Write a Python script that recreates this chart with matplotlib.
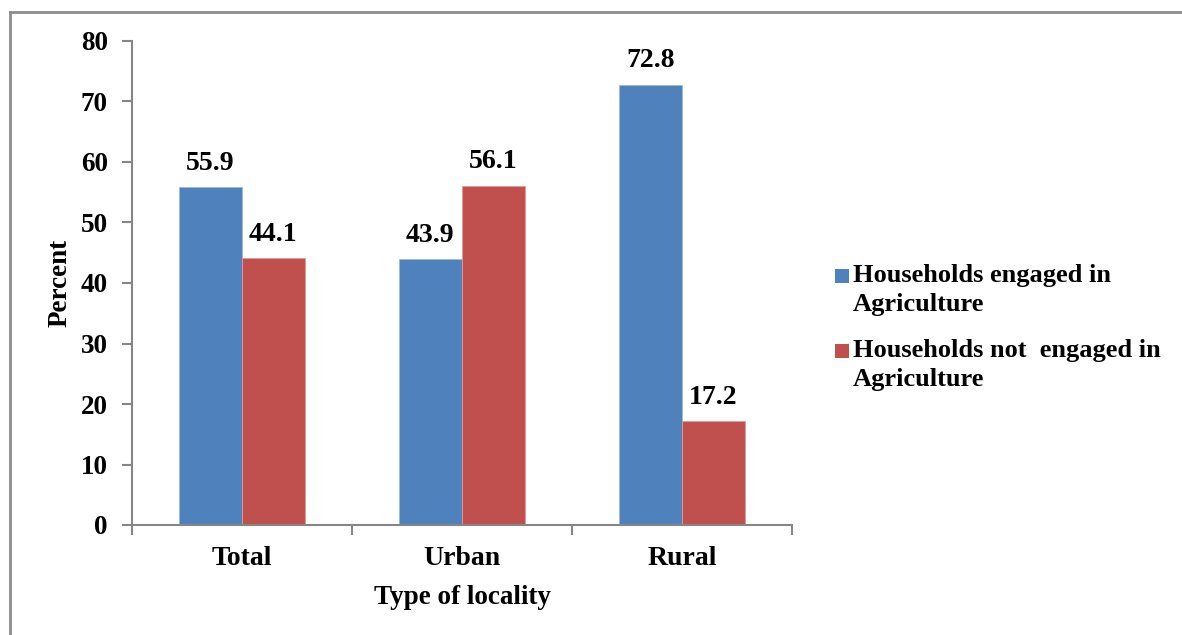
import matplotlib
matplotlib.use("Agg")
import matplotlib.pyplot as plt
from matplotlib.lines import Line2D
from matplotlib.patches import Rectangle
import numpy as np

categories = ["Total", "Urban", "Rural"]
engaged = [55.9, 43.9, 72.8]
not_engaged = [44.1, 56.1, 17.2]
series_labels = ["Households engaged in\nAgriculture",
                 "Households not  engaged in\nAgriculture"]
y_ticks = [0, 10, 20, 30, 40, 50, 60, 70, 80]

BLUE = "#4F81BD"
RED = "#C0504D"
GRID_GRAY = "#868686"

plt.rcParams["font.family"] = ["Liberation Serif", "DejaVu Serif"]
plt.rcParams["font.weight"] = "bold"

W, H = 1182, 635
fig = plt.figure(figsize=(W / 100, H / 100), dpi=100)
ax = fig.add_axes([131.5 / W, (H - 525) / H, (792 - 131.5) / W, (525 - 41) / H])

x = np.arange(len(categories))
bw = 63 / 220
b1 = ax.bar(x - bw / 2, engaged, bw, color=BLUE, edgecolor="#9DB9DE", linewidth=0.6)
b2 = ax.bar(x + bw / 2, not_engaged, bw, color=RED, edgecolor="#E39A98", linewidth=0.6)

for bars, vals in ((b1, engaged), (b2, not_engaged)):
    for rect, v in zip(bars, vals):
        ax.annotate(f"{v:.1f}", (rect.get_x() + rect.get_width() / 2, v),
                    xytext=(0, 8), textcoords="offset points",
                    ha="center", va="bottom", fontsize=20, fontweight="bold")

ax.set_xlim(-0.5, len(categories) - 0.5)
ax.set_ylim(0, 80)
ax.set_yticks(y_ticks)
ax.set_yticklabels([str(t) for t in y_ticks], fontsize=19.5, fontweight="bold")

# group boundaries as major ticks, category names as minor ticks
ax.set_xticks(np.arange(len(categories) + 1) - 0.5)
ax.set_xticklabels([])
ax.set_xticks(x, minor=True)
ax.set_xticklabels(categories, minor=True, fontsize=20, fontweight="bold")
ax.tick_params(axis="x", which="minor", length=0, pad=15)
ax.tick_params(axis="x", which="major", length=7, width=1.5, color=GRID_GRAY, direction="out")
ax.tick_params(axis="y", length=7, width=1.5, color=GRID_GRAY, direction="out", pad=10)

for s in ("top", "right"):
    ax.spines[s].set_visible(False)
for s in ("left", "bottom"):
    ax.spines[s].set_color(GRID_GRAY)
    ax.spines[s].set_linewidth(1.5)

fig.text(60 / W, 1 - 283 / H, "Percent", rotation=90, ha="center", va="center",
         fontsize=19.5, fontweight="bold")
fig.text(462 / W, 1 - 598 / H, "Type of locality", ha="center", va="center",
         fontsize=19.5, fontweight="bold")

# legend entries
for i, (lab, col) in enumerate(zip(series_labels, [BLUE, RED])):
    top = 269 + i * 75
    fig.patches.append(Rectangle((835 / W, 1 - (top + 14) / H), 14 / W, 14 / H,
                                 transform=fig.transFigure, facecolor=col,
                                 edgecolor="none"))
    fig.text(853 / W, 1 - (top - 5) / H, lab, ha="left", va="top",
             fontsize=19, fontweight="bold", linespacing=1.32)

# outer frame
fig.add_artist(Line2D([10 / W, 10 / W], [0, 1 - 11.5 / H], transform=fig.transFigure,
                      color="#8C8C8C", linewidth=2))
fig.add_artist(Line2D([10 / W, 1], [1 - 11.5 / H, 1 - 11.5 / H], transform=fig.transFigure,
                      color="#8C8C8C", linewidth=2))

fig.savefig("out.png", dpi=100, facecolor="white")
